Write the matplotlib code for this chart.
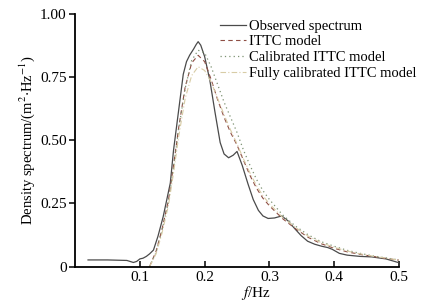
import matplotlib
matplotlib.use("Agg")
import matplotlib.pyplot as plt
import numpy as np

# Observed spectrum
f_obs = [0.02, 0.05, 0.08, 0.085, 0.09, 0.095, 0.10, 0.105, 0.11, 0.115, 0.121, 0.128, 0.136,
         0.147, 0.152, 0.160, 0.167, 0.172, 0.177, 0.183, 0.187, 0.190, 0.194, 0.200, 0.208,
         0.216, 0.224, 0.230, 0.237, 0.244, 0.250, 0.258, 0.267, 0.275, 0.283, 0.290, 0.298,
         0.308, 0.319, 0.329, 0.339, 0.349, 0.359, 0.370, 0.381, 0.390, 0.397, 0.408, 0.420,
         0.440, 0.458, 0.480, 0.500]
s_obs = [0.026, 0.026, 0.024, 0.020, 0.016, 0.020, 0.030, 0.033, 0.040, 0.050, 0.065, 0.120, 0.197,
         0.330, 0.460, 0.620, 0.760, 0.810, 0.836, 0.860, 0.878, 0.889, 0.875, 0.830, 0.737,
         0.610, 0.490, 0.445, 0.430, 0.440, 0.455, 0.400, 0.326, 0.265, 0.222, 0.200, 0.190,
         0.192, 0.200, 0.180, 0.150, 0.122, 0.100, 0.088, 0.080, 0.075, 0.068, 0.052, 0.045,
         0.040, 0.038, 0.030, 0.015]

# Model spectra
f_mod = [0.115, 0.125, 0.134, 0.144, 0.152, 0.16, 0.17, 0.18, 0.19, 0.20, 0.21, 0.22, 0.23,
         0.24, 0.25, 0.26, 0.27, 0.28, 0.29, 0.30, 0.32, 0.34, 0.36, 0.38, 0.40, 0.42,
         0.44, 0.46, 0.48, 0.50]
s_ittc = [0.000, 0.060, 0.145, 0.260, 0.400, 0.550, 0.710, 0.805, 0.835, 0.810, 0.740, 0.660, 0.590,
          0.530, 0.480, 0.420, 0.360, 0.310, 0.270, 0.240, 0.190, 0.150, 0.115, 0.090, 0.072, 0.058,
          0.048, 0.040, 0.032, 0.025]
s_cal = [0.000, 0.055, 0.140, 0.255, 0.390, 0.545, 0.705, 0.815, 0.855, 0.845, 0.790, 0.720, 0.650,
         0.590, 0.530, 0.460, 0.400, 0.345, 0.300, 0.265, 0.205, 0.160, 0.125, 0.098, 0.080, 0.064,
         0.052, 0.042, 0.034, 0.026]
s_full = [0.000, 0.050, 0.130, 0.240, 0.370, 0.515, 0.665, 0.755, 0.790, 0.775, 0.730, 0.665, 0.600,
          0.540, 0.485, 0.425, 0.370, 0.320, 0.280, 0.248, 0.195, 0.155, 0.120, 0.094, 0.076, 0.061,
          0.050, 0.041, 0.033, 0.025]

labels = ["Observed spectrum", "ITTC model", "Calibrated ITTC model", "Fully calibrated ITTC model"]
xticks = [0.1, 0.2, 0.3, 0.4, 0.5]
yticks = [0, 0.25, 0.5, 0.75, 1.0]
yticklabels = ["0", "0.25", "0.50", "0.75", "1.00"]

plt.rcParams['font.family'] = ['Liberation Serif', 'DejaVu Serif']
plt.rcParams['mathtext.fontset'] = 'stix'

fig = plt.figure(figsize=(4.29, 3.02), dpi=100)
ax = fig.add_axes([0.175, 0.1175, 0.755, 0.8375])

ax.plot(f_obs, s_obs, color='#4a4a4a', lw=0.9, ls='-', label=labels[0])
ax.plot(f_mod, s_ittc, color='#8e4e44', lw=0.8, ls=(0, (4, 3)), label=labels[1])
ax.plot(f_mod, s_cal, color='#7d9272', lw=0.9, ls=(0, (1, 2.5)), label=labels[2])
ax.plot(f_mod, s_full, color='#d8cca6', lw=0.8, ls=(0, (5, 2, 1, 2)), label=labels[3])

ax.set_xlim(0, 0.5)
ax.set_ylim(0, 1.0)
ax.set_xticks(xticks)
ax.set_xticklabels([str(t) for t in xticks])
ax.set_yticks(yticks)
ax.set_yticklabels(yticklabels)
for s in ['top', 'right']:
    ax.spines[s].set_visible(False)
for s in ['left', 'bottom']:
    ax.spines[s].set_linewidth(1.3)
ax.tick_params(axis='x', direction='in', length=4, width=1.1, labelsize=11, pad=3)
ax.tick_params(axis='y', direction='out', length=4, width=1.1, labelsize=11, pad=2)

ax.set_xlabel(r'$f$/Hz', fontsize=11)
ax.xaxis.set_label_coords(0.56, -0.068)
ax.set_ylabel(r'Density spectrum/(m$^{2}$$\cdot$Hz$^{-1}$)', fontsize=10.5)
ax.yaxis.set_label_coords(-0.117, 0.5)

leg = ax.legend(loc='upper left', bbox_to_anchor=(0.43, 1.0), frameon=False, fontsize=10.5,
                handlelength=1.8, handletextpad=0.15, labelspacing=0.18, borderaxespad=0)

fig.savefig('out.png', dpi=100)
